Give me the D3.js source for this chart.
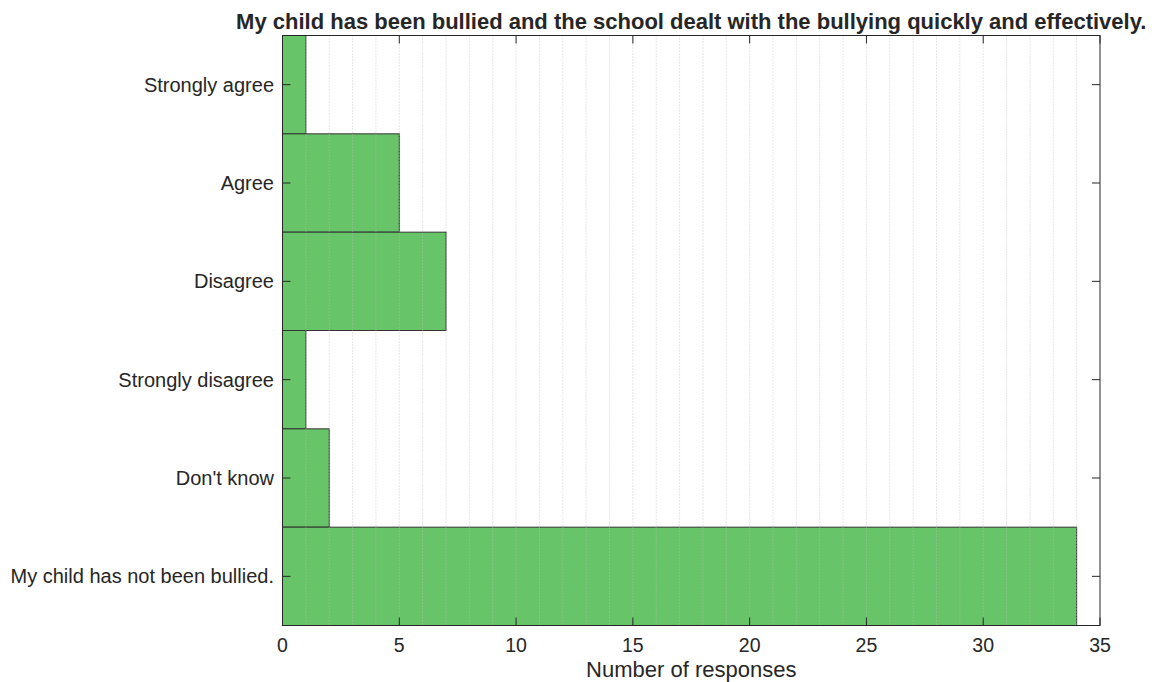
<!DOCTYPE html>
<html><head><meta charset="utf-8">
<script src="https://cdn.jsdelivr.net/npm/d3@7"></script>
<style>body{margin:0;background:#fff;} text{font-family:"Liberation Sans",Arial,sans-serif;}</style>
</head><body>
<svg id="c" width="1152" height="682"></svg>
<script>
const categories = ["Strongly agree","Agree","Disagree","Strongly disagree","Don't know","My child has not been bullied."];
const values = [1,5,7,1,2,34];
const xTicks = [0,5,10,15,20,25,30,35];
const titleText = "My child has been bullied and the school dealt with the bullying quickly and effectively.";
const xLabel = "Number of responses";

const svg = d3.select("#c");
const L=282.5, R=1100, T=35.5, B=625.5;
const x = d3.scaleLinear().domain([0,35]).range([L,R]);
const y = d3.scaleBand().domain(categories).range([T,B]).padding(0);

svg.append("g").selectAll("rect").data(values).join("rect")
  .attr("x", x(0)).attr("y",(d,i)=>y(categories[i]))
  .attr("width", d=>x(d)-x(0)).attr("height", y.bandwidth())
  .attr("fill","#5cbf5c").attr("fill-opacity",0.93)
  .attr("stroke","#333").attr("stroke-width",1);

const minor = d3.range(1,35);
svg.append("g").selectAll("line").data(minor).join("line")
  .attr("x1",d=>x(d)).attr("x2",d=>x(d)).attr("y1",T).attr("y2",B)
  .attr("stroke","#bdbdbd").attr("stroke-opacity",0.75).attr("stroke-width",1)
  .attr("stroke-dasharray","1,2");

svg.append("rect").attr("x",L).attr("y",T).attr("width",R-L).attr("height",B-T)
  .attr("fill","none").attr("stroke","#262626").attr("stroke-width",1);

const ax = svg.append("g");
ax.selectAll("line.b").data(xTicks).join("line").attr("class","b")
  .attr("x1",d=>x(d)).attr("x2",d=>x(d)).attr("y1",B).attr("y2",B-8).attr("stroke","#262626");
ax.selectAll("line.t").data(xTicks).join("line").attr("class","t")
  .attr("x1",d=>x(d)).attr("x2",d=>x(d)).attr("y1",T).attr("y2",T+8).attr("stroke","#262626");
ax.selectAll("text").data(xTicks).join("text")
  .attr("x",d=>x(d)).attr("y",652).attr("text-anchor","middle")
  .attr("font-size",19.5).attr("fill","#262626").text(d=>d);

const ay = svg.append("g");
ay.selectAll("line.l").data(categories).join("line").attr("class","l")
  .attr("x1",L).attr("x2",L+8).attr("y1",d=>y(d)+y.bandwidth()/2).attr("y2",d=>y(d)+y.bandwidth()/2).attr("stroke","#262626");
ay.selectAll("line.r").data(categories).join("line").attr("class","r")
  .attr("x1",R).attr("x2",R-8).attr("y1",d=>y(d)+y.bandwidth()/2).attr("y2",d=>y(d)+y.bandwidth()/2).attr("stroke","#262626");
ay.selectAll("text").data(categories).join("text")
  .attr("x",274).attr("y",d=>y(d)+y.bandwidth()/2).attr("dy","0.35em").attr("text-anchor","end")
  .attr("font-size",20).attr("fill","#262626").text(d=>d);

svg.append("text").attr("x",(L+R)/2).attr("y",677).attr("text-anchor","middle")
  .attr("font-size",22).attr("fill","#262626").text(xLabel);
svg.append("text").attr("x",(L+R)/2).attr("y",29).attr("text-anchor","middle")
  .attr("font-size",22).attr("font-weight","bold").attr("fill","#262626").text(titleText);
</script>
</body></html>
